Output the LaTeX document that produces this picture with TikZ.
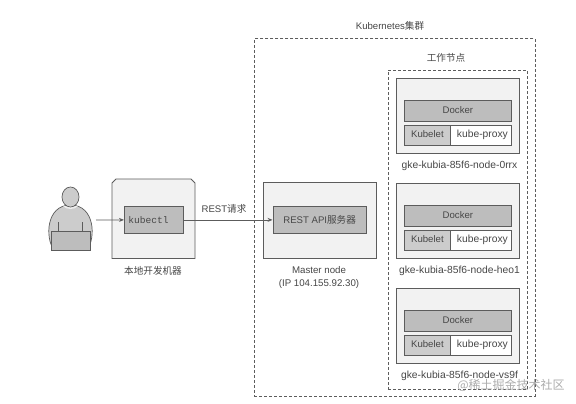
\documentclass[tikz,border=0pt]{standalone}
\usepackage{fontspec}
\setmainfont{Liberation Sans}
\setmonofont{Liberation Mono}
\newfontfamily\cjk{Noto Sans CJK SC}
\usetikzlibrary{arrows.meta}
\definecolor{edgec}{gray}{0.36}
\definecolor{fillbox}{gray}{0.95}
\definecolor{fillcomp}{gray}{0.74}
\definecolor{fillkub}{gray}{0.80}
\definecolor{fillbody}{gray}{0.80}
\definecolor{fillneck}{gray}{0.93}
\definecolor{txt}{gray}{0.28}
\tikzset{
  x=1pt,y=-1pt,
  every node/.style={text=txt,font=\fontsize{9.6}{11}\selectfont,inner sep=0pt},
  panel/.style={draw=edgec,line width=0.8pt,fill=fillbox},
  comp/.style={draw=edgec,line width=0.8pt,fill=fillcomp},
  kub/.style={draw=edgec,line width=0.8pt,fill=fillkub},
  proxy/.style={draw=edgec,line width=0.8pt,fill=white},
  dashbox/.style={draw=edgec,line width=0.6pt,densely dashed},
  conn/.style={draw=edgec,line width=0.8pt},
  arrowc/.style={conn,-{Stealth[length=5pt,width=4pt]}},
  wide/.style={font=\fontsize{10.3}{12}\selectfont},
  even/.style={text height=7pt,text depth=2pt},
}
\newcommand{\boxnode}[6]{% name, style, x1, y1, x2, y2
  \node[#2,inner sep=0pt,minimum width={#5-#3},minimum height={#6-#4},anchor=north west] (#1) at (#3,#4) {};}
\newcommand{\worker}[3]{% prefix, top y, label
  \pgfmathsetmacro{\ya}{#2}
  \pgfmathsetmacro{\yb}{#2+74.5}
  \pgfmathsetmacro{\yc}{#2+22}
  \pgfmathsetmacro{\yd}{#2+42.5}
  \pgfmathsetmacro{\ye}{#2+46.5}
  \pgfmathsetmacro{\yf}{#2+66.5}
  \pgfmathsetmacro{\yg}{#2+87.5}
  \boxnode{#1n}{panel}{396}{\ya}{519}{\yb}
  \boxnode{#1d}{comp}{404}{\yc}{511}{\yd}
  \node[even] at (#1d.center) {Docker};
  \boxnode{#1k}{kub}{404}{\ye}{450}{\yf}
  \node[even] at (#1k.center) {Kubelet};
  \boxnode{#1p}{proxy}{450}{\ye}{511}{\yf}
  \node[wide,even] at ([xshift=1.5pt]#1p.center) {kube-proxy};
  \node[wide,even] (#1l) at (459.5,\yg) {#3};
}
\begin{document}
\begin{tikzpicture}
\useasboundingbox (0,0) rectangle (576,404);
\fill[white] (0,0) rectangle (576,404);
% cluster
\boxnode{cluster}{dashbox}{254}{38.5}{535}{395.5}
\node (clusterl) at (390,26) {Kubernetes{\cjk 集群}};
\boxnode{workers}{dashbox}{387.5}{70}{527}{389}
\node (workersl) at (446,57.5) {\cjk 工作节点};
\worker{a}{78.5}{gke-kubia-85f6-node-0rrx}
\worker{b}{183}{gke-kubia-85f6-node-heo1}
\worker{c}{288}{gke-kubia-85f6-node-vs9f}
% machine
\draw[panel] (112,183) -- (116,179) -- (191,179) -- (195,183) -- (195,258.5) -- (112,258.5) -- cycle;
\boxnode{kubectl}{comp}{124}{206}{183}{233}
\node at (148.5,220) {\ttfamily kubectl};
\node (machinel) at (153,270.5) {\cjk 本地开发机器};
% master
\boxnode{master}{panel}{263}{182}{376}{257.5}
\boxnode{api}{comp}{272.5}{206}{366}{233}
\node at (api.center) {REST API{\cjk 服务器}};
\node[align=center,font=\fontsize{9.7}{13}\selectfont] (masterl) at (319,277) {Master node\\(IP 104.155.92.30)};
% person
\fill[fillbody,draw=edgec,line width=0.7pt] (54,250) .. controls (45,238) and (46,205) .. (70.5,205) .. controls (95,205) and (96,238) .. (87,250) -- cycle;
\fill[fillneck] (63,206) .. controls (66,210) and (75,210) .. (78,206) -- cycle;
\draw[fill=fillbody,draw=edgec,line width=0.7pt] (70.5,197) ellipse (8.5 and 10);
\coordinate (pe) at (96,220);
\draw[edgec,line width=0.6pt] (58.5,222) -- (58.5,231) (82.5,222) -- (82.5,231);
\draw[fill=fillcomp,draw=edgec,line width=0.7pt] (51,231) -- (90,231) -- (90,250) -- (51,250) -- cycle;
% connectors
\draw[arrowc] (pe) -- (kubectl.west);
\draw[arrowc] (kubectl.east) -- (api.west);
\node (rest) at (224,209) {REST{\cjk 请求}};
% watermark
\node[text=black!32,font=\fontsize{12}{14}\selectfont\cjk] (wm) at (511,385) {@稀土掘金技术社区};
\end{tikzpicture}
\end{document}
